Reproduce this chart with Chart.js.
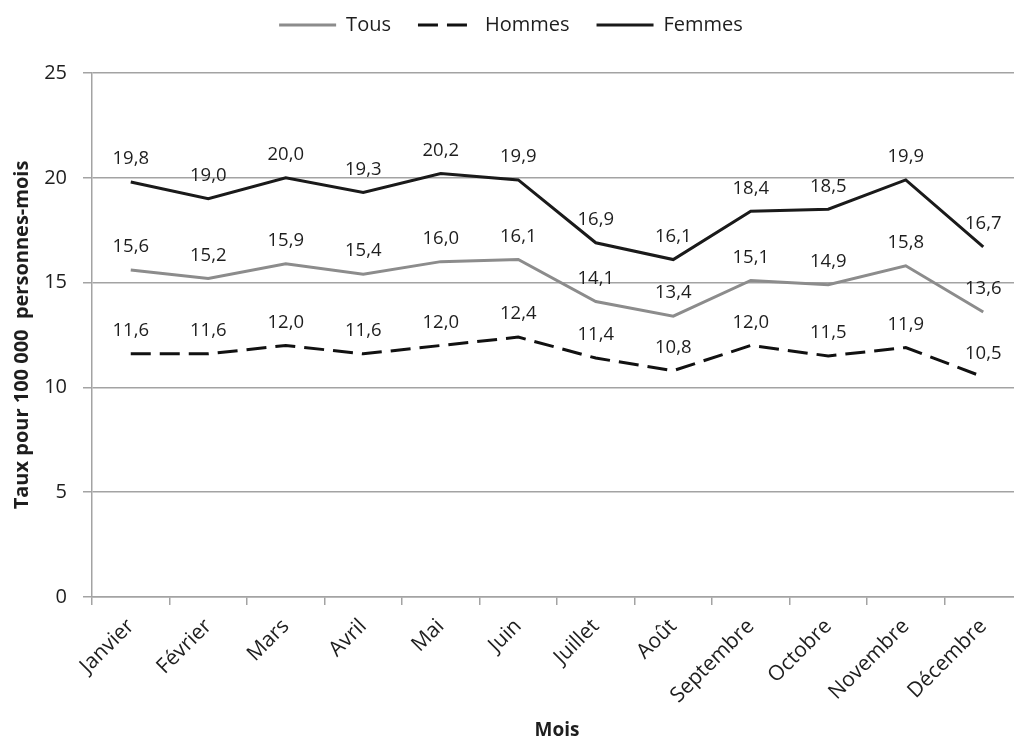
<!DOCTYPE html>
<html lang="fr">
<head>
<meta charset="utf-8">
<title>Taux mensuels</title>
<script src="https://cdn.jsdelivr.net/npm/chart.js@4/dist/chart.umd.min.js"></script>
<style>
  html, body { margin: 0; padding: 0; background: #fff; overflow: hidden; }
  #wrap { width: 1014px; height: 742px; overflow: hidden; }
</style>
</head>
<body>
<div id="wrap">
  <canvas id="myChart" width="1040" height="742"></canvas>
</div>
<script>
// mois et taux pour 100 000 personnes-mois
const mois = ['Janvier', 'Février', 'Mars', 'Avril', 'Mai', 'Juin', 'Juillet', 'Août', 'Septembre', 'Octobre', 'Novembre', 'Décembre'];
const tous = [15.6, 15.2, 15.9, 15.4, 16.0, 16.1, 14.1, 13.4, 15.1, 14.9, 15.8, 13.6];
const hommes = [11.6, 11.6, 12.0, 11.6, 12.0, 12.4, 11.4, 10.8, 12.0, 11.5, 11.9, 10.5];
const femmes = [19.8, 19.0, 20.0, 19.3, 20.2, 19.9, 16.9, 16.1, 18.4, 18.5, 19.9, 16.7];
const yTicks = [0, 5, 10, 15, 20, 25];

const FONT = "'Open Sans', 'DejaVu Sans', sans-serif";
const TEXT = '#1e1e1e';
const GRID = '#a3a3a3';

// valeur au-dessus de chaque point, virgule décimale
const pointLabels = {
    id: 'pointLabels',
    afterDatasetsDraw(chart) {
        const ctx = chart.ctx;
        ctx.save();
        ctx.font = '18.5px ' + FONT;
        ctx.fillStyle = TEXT;
        ctx.textAlign = 'center';
        ctx.textBaseline = 'middle';
        chart.data.datasets.forEach((ds, i) => {
            chart.getDatasetMeta(i).data.forEach((pt, j) => {
                let txt = ds.data[j].toFixed(1).replace('.', ',');
                ctx.fillText(txt, pt.x, pt.y - 23);
            });
        });
        ctx.restore();
    }
};

// un peu d'air entre la légende et le graphique
const legendGap = {
    id: 'legendGap',
    beforeInit(chart) {
        const fit = chart.legend.fit;
        chart.legend.fit = function () {
            fit.bind(chart.legend)();
            this.height += 28;
        };
    }
};

// légende : trait plein ou tireté comme la série
let legendItems = (chart) => {
    return chart.data.datasets.map((ds, i) => ({
        text: ds.label,
        datasetIndex: i,
        strokeStyle: ds.borderColor,
        fillStyle: ds.borderColor,
        lineWidth: ds.borderWidth,
        lineDash: ds.borderDash || [],
        pointStyle: 'line',
        fontColor: TEXT,
        hidden: false
    }));
};

new Chart('myChart', {
    type: 'line',
    data: {
        labels: mois,
        datasets: [
            {
                label: 'Tous',
                data: tous,
                borderColor: '#8c8c8c',
                borderWidth: 3,
                pointRadius: 0,
                tension: 0
            },
            {
                label: 'Hommes',
                data: hommes,
                borderColor: '#111111',
                borderWidth: 3,
                borderDash: [20, 9],
                pointRadius: 0,
                tension: 0
            },
            {
                label: 'Femmes',
                data: femmes,
                borderColor: '#1a1a1a',
                borderWidth: 3,
                pointRadius: 0,
                tension: 0
            }
        ]
    },
    options: {
        responsive: false,
        devicePixelRatio: 1,
        animation: false,
        layout: {
            padding: { top: -12, right: 18, bottom: 0, left: 0 }
        },
        plugins: {
            legend: {
                display: true,
                position: 'top',
                labels: {
                    usePointStyle: true,
                    pointStyle: 'line',
                    pointStyleWidth: 57,
                    padding: 27,
                    color: TEXT,
                    font: { family: FONT, size: 20 },
                    generateLabels: legendItems
                }
            },
            tooltip: { enabled: false }
        },
        scales: {
            x: {
                offset: true,
                afterFit: (scale) => { scale.height = 145; },
                grid: {
                    offset: true,
                    drawOnChartArea: false,
                    drawTicks: true,
                    tickLength: 8,
                    color: GRID,
                    lineWidth: 1.5
                },
                border: { color: GRID, width: 1.5 },
                ticks: {
                    minRotation: 45,
                    maxRotation: 45,
                    autoSkip: false,
                    padding: 9,
                    color: TEXT,
                    font: { family: FONT, size: 21 }
                },
                title: {
                    display: true,
                    text: 'Mois',
                    color: TEXT,
                    padding: { top: 18, bottom: 0 },
                    font: { family: FONT, size: 19, weight: 'bold' }
                }
            },
            y: {
                min: 0,
                max: 25,
                afterFit: (scale) => { scale.width = 92; },
                afterBuildTicks: (axis) => {
                    axis.ticks = yTicks.map(v => ({ value: v }));
                },
                grid: {
                    color: GRID,
                    lineWidth: 1.5,
                    tickLength: 9
                },
                border: { color: GRID, width: 1.5 },
                ticks: {
                    padding: 16,
                    color: TEXT,
                    font: { family: FONT, size: 20 }
                },
                title: {
                    display: true,
                    text: 'Taux pour 100 000  personnes-mois',
                    color: TEXT,
                    padding: { top: 10, bottom: 10 },
                    font: { family: FONT, size: 20, weight: 'bold' }
                }
            }
        }
    },
    plugins: [legendGap, pointLabels]
});
</script>
</body>
</html>
